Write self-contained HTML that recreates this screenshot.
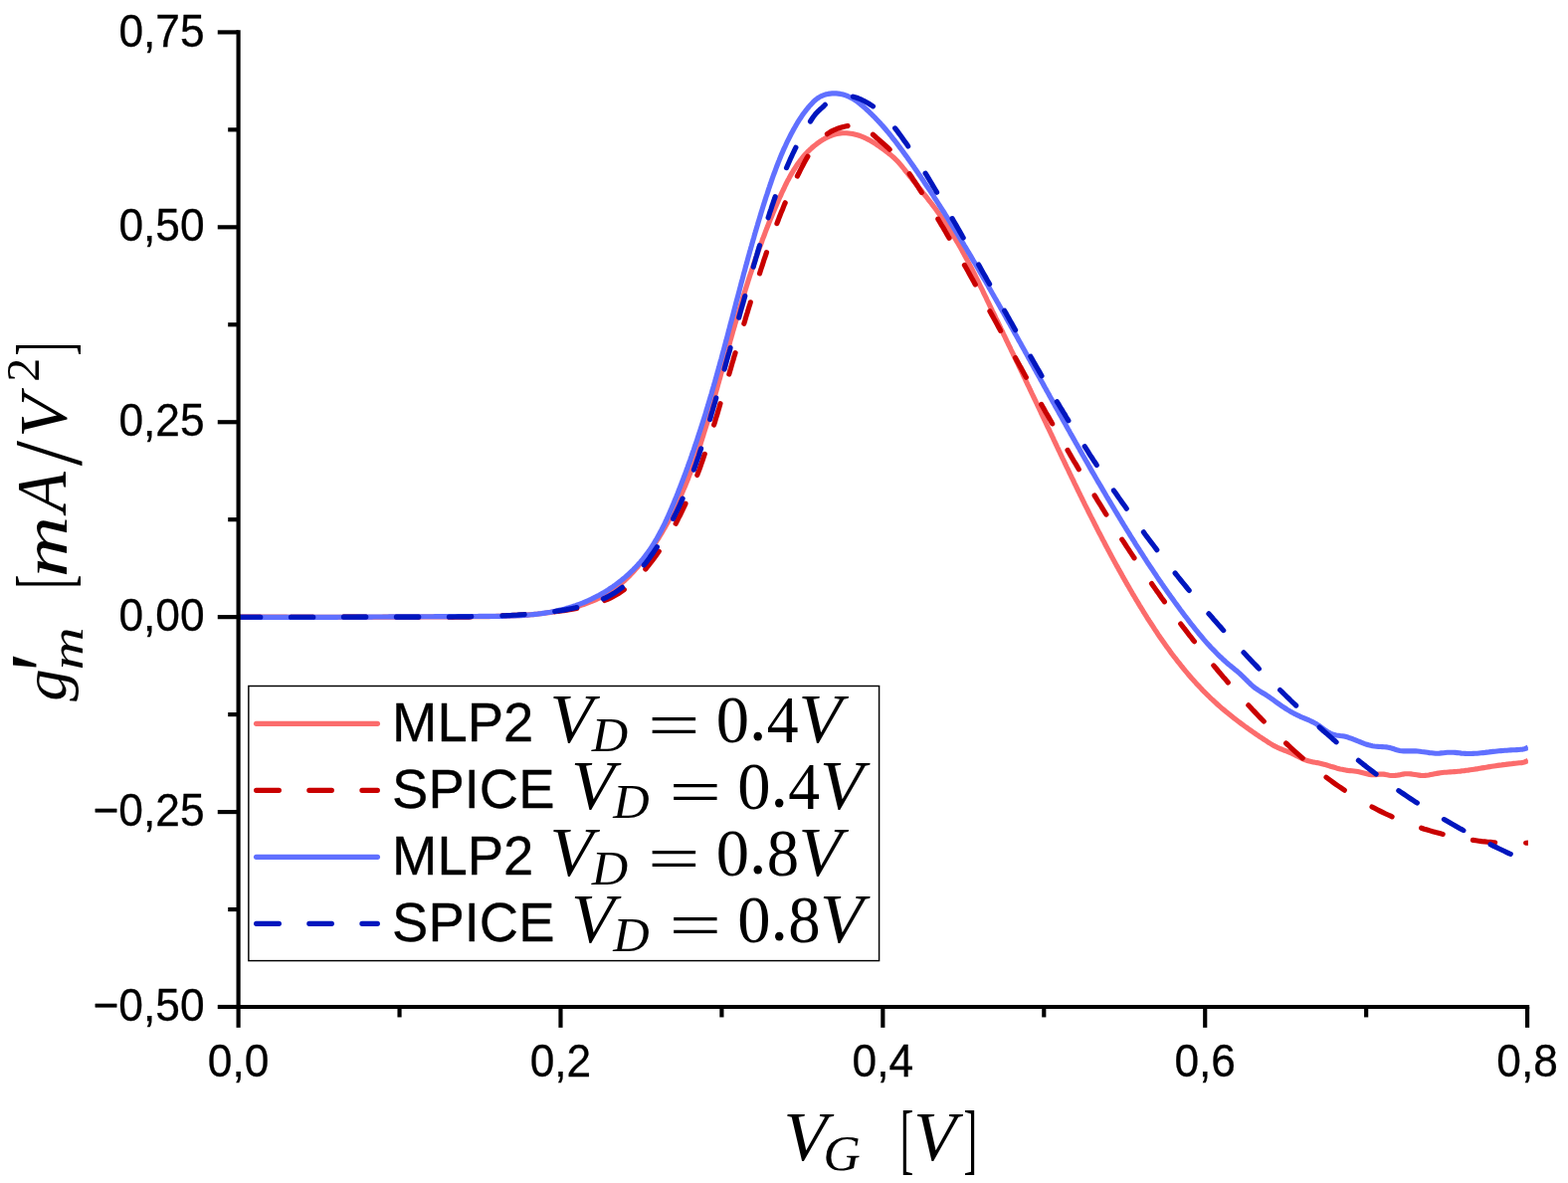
<!DOCTYPE html>
<html lang="en"><head><meta charset="utf-8"><title>g'm vs VG</title>
<style>
html,body{margin:0;padding:0;background:#fff;}
body{width:1576px;height:1189px;overflow:hidden;}
svg{display:block;}
.tick{font-family:"Liberation Sans",Arial,Helvetica,sans-serif;fill:#000;stroke:#000;stroke-width:0.3px;}
.leg{font-family:"Liberation Sans",Arial,Helvetica,sans-serif;fill:#000;stroke:#000;stroke-width:0.3px;}
.mi{font-family:"Liberation Serif","DejaVu Serif",serif;font-style:italic;fill:#000;}
.mr{font-family:"Liberation Serif","DejaVu Serif",serif;font-style:normal;fill:#000;}
</style></head><body>
<svg width="1576" height="1189" viewBox="0 0 1576 1189">
<rect width="1576" height="1189" fill="#fff"/>
<defs><clipPath id="clip"><rect x="239.6" y="32.4" width="1296.3" height="979.6"/></clipPath></defs>
<g clip-path="url(#clip)" fill="none" stroke-width="5.15" stroke-linejoin="round">
<path d="M239.6,620.1 L241.6,620.1 L243.6,620.1 L245.6,620.1 L247.6,620.1 L249.6,620.1 L251.6,620.1 L253.6,620.1 L255.6,620.1 L257.6,620.1 L259.6,620.1 L261.6,620.1 L263.6,620.1 L265.6,620.1 L267.6,620.1 L269.6,620.1 L271.6,620.1 L273.6,620.1 L275.6,620.1 L277.6,620.1 L279.6,620.1 L281.6,620.1 L283.6,620.1 L285.6,620.1 L287.6,620.1 L289.6,620.2 L291.6,620.2 L293.6,620.2 L295.6,620.2 L297.6,620.2 L299.6,620.2 L301.6,620.2 L303.6,620.2 L305.6,620.2 L307.6,620.2 L309.6,620.2 L311.6,620.2 L313.6,620.2 L315.6,620.2 L317.6,620.2 L319.6,620.2 L321.6,620.2 L323.6,620.2 L325.6,620.2 L327.6,620.2 L329.6,620.2 L331.6,620.2 L333.6,620.2 L335.6,620.2 L337.6,620.2 L339.6,620.2 L341.6,620.2 L343.6,620.2 L345.6,620.2 L347.6,620.2 L349.6,620.2 L351.6,620.2 L353.6,620.2 L355.6,620.2 L357.6,620.2 L359.6,620.2 L361.6,620.2 L363.6,620.2 L365.6,620.2 L367.6,620.2 L369.6,620.2 L371.6,620.2 L373.6,620.2 L375.6,620.2 L377.6,620.2 L379.6,620.2 L381.6,620.2 L383.6,620.2 L385.6,620.1 L387.6,620.1 L389.6,620.1 L391.6,620.1 L393.6,620.1 L395.6,620.1 L397.6,620.1 L399.6,620.1 L401.6,620.1 L403.6,620.1 L405.6,620.1 L407.6,620.1 L409.6,620.1 L411.6,620.1 L413.6,620.1 L415.6,620.1 L417.6,620.1 L419.6,620.1 L421.6,620.1 L423.6,620.0 L425.6,620.0 L427.6,620.0 L429.6,620.0 L431.6,620.0 L433.6,620.0 L435.6,620.0 L437.6,620.0 L439.6,620.0 L441.6,620.0 L443.6,620.0 L445.6,619.9 L447.6,619.9 L449.6,619.9 L451.6,619.9 L453.6,619.9 L455.6,619.9 L457.6,619.9 L459.6,619.9 L461.6,619.8 L463.6,619.8 L465.6,619.8 L467.6,619.8 L469.6,619.8 L471.6,619.8 L473.6,619.7 L475.6,619.7 L477.6,619.7 L479.6,619.7 L481.6,619.7 L483.6,619.7 L485.6,619.6 L487.6,619.6 L489.6,619.6 L491.6,619.6 L493.6,619.5 L495.6,619.5 L497.6,619.5 L499.6,619.4 L501.6,619.4 L503.6,619.3 L505.6,619.3 L507.6,619.2 L509.6,619.2 L511.6,619.1 L513.6,619.0 L515.6,618.9 L517.6,618.8 L519.6,618.7 L521.6,618.6 L523.5,618.5 L525.5,618.4 L527.5,618.3 L529.5,618.1 L531.5,617.9 L533.5,617.8 L535.5,617.6 L537.5,617.4 L539.4,617.2 L541.4,617.0 L543.4,616.8 L545.4,616.5 L547.4,616.3 L549.3,616.0 L551.3,615.7 L553.3,615.4 L555.3,615.1 L557.2,614.7 L559.2,614.4 L561.2,614.0 L563.1,613.6 L565.1,613.2 L567.1,612.8 L569.0,612.4 L571.0,611.9 L572.9,611.4 L574.9,610.9 L576.9,610.4 L578.8,609.9 L580.7,609.3 L582.7,608.7 L584.6,608.1 L586.5,607.5 L588.4,606.8 L590.3,606.1 L592.2,605.4 L594.1,604.7 L596.0,603.9 L597.8,603.1 L599.7,602.3 L601.5,601.4 L603.3,600.6 L605.0,599.6 L606.8,598.7 L608.5,597.7 L610.3,596.7 L612.0,595.7 L613.6,594.6 L615.3,593.5 L616.9,592.3 L618.5,591.1 L620.1,589.9 L621.6,588.7 L623.2,587.4 L624.7,586.2 L626.2,584.8 L627.7,583.5 L629.1,582.2 L630.6,580.8 L632.0,579.4 L633.4,577.9 L634.8,576.5 L636.2,575.0 L637.5,573.5 L638.8,572.0 L640.2,570.5 L641.5,569.0 L642.7,567.5 L644.0,565.9 L645.3,564.3 L646.5,562.7 L647.7,561.2 L648.9,559.6 L650.1,558.0 L651.3,556.3 L652.5,554.7 L653.7,553.1 L654.8,551.5 L655.9,549.8 L657.1,548.2 L658.2,546.5 L659.3,544.8 L660.3,543.2 L661.4,541.5 L662.5,539.8 L663.5,538.1 L664.6,536.4 L665.6,534.7 L666.6,533.0 L667.6,531.3 L668.6,529.6 L669.6,527.8 L670.5,526.1 L671.5,524.4 L672.4,522.6 L673.4,520.9 L674.3,519.1 L675.2,517.3 L676.1,515.6 L677.0,513.8 L677.9,512.0 L678.8,510.2 L679.6,508.5 L680.5,506.7 L681.3,504.9 L682.2,503.1 L683.0,501.3 L683.8,499.4 L684.6,497.6 L685.4,495.8 L686.2,494.0 L687.0,492.1 L687.8,490.3 L688.6,488.5 L689.3,486.6 L690.1,484.8 L690.8,482.9 L691.6,481.1 L692.3,479.2 L693.0,477.4 L693.7,475.5 L694.4,473.6 L695.2,471.7 L695.9,469.9 L696.5,468.0 L697.2,466.1 L697.9,464.2 L698.6,462.3 L699.2,460.4 L699.9,458.6 L700.6,456.7 L701.2,454.8 L701.9,452.9 L702.5,450.9 L703.1,449.0 L703.8,447.1 L704.4,445.2 L705.0,443.3 L705.6,441.4 L706.2,439.5 L706.8,437.6 L707.4,435.6 L708.0,433.7 L708.6,431.8 L709.2,429.9 L709.8,427.9 L710.4,426.0 L711.0,424.1 L711.5,422.2 L712.1,420.2 L712.7,418.3 L713.2,416.4 L713.8,414.4 L714.4,412.5 L714.9,410.6 L715.5,408.6 L716.0,406.7 L716.6,404.7 L717.1,402.8 L717.7,400.9 L718.2,398.9 L718.8,397.0 L719.3,395.1 L719.9,393.1 L720.4,391.2 L721.0,389.2 L721.5,387.3 L722.0,385.4 L722.6,383.4 L723.1,381.5 L723.7,379.6 L724.2,377.6 L724.7,375.7 L725.3,373.8 L725.8,371.8 L726.3,369.9 L726.9,368.0 L727.4,366.0 L728.0,364.1 L728.5,362.2 L729.0,360.3 L729.6,358.3 L730.1,356.4 L730.7,354.5 L731.2,352.5 L731.7,350.6 L732.3,348.7 L732.8,346.8 L733.4,344.8 L733.9,342.9 L734.4,341.0 L735.0,339.1 L735.5,337.2 L736.1,335.2 L736.6,333.3 L737.2,331.4 L737.7,329.5 L738.3,327.6 L738.8,325.7 L739.4,323.7 L740.0,321.8 L740.5,319.9 L741.1,318.0 L741.7,316.1 L742.2,314.2 L742.8,312.3 L743.4,310.4 L743.9,308.4 L744.5,306.5 L745.1,304.6 L745.7,302.7 L746.2,300.8 L746.8,298.9 L747.4,297.0 L748.0,295.1 L748.6,293.2 L749.2,291.3 L749.8,289.4 L750.4,287.5 L751.0,285.6 L751.6,283.7 L752.2,281.8 L752.8,279.9 L753.4,278.0 L754.0,276.1 L754.7,274.3 L755.3,272.4 L755.9,270.5 L756.6,268.6 L757.2,266.7 L757.8,264.8 L758.5,262.9 L759.1,261.0 L759.8,259.2 L760.4,257.3 L761.1,255.4 L761.8,253.5 L762.4,251.6 L763.1,249.8 L763.8,247.9 L764.5,246.0 L765.2,244.2 L765.9,242.3 L766.5,240.4 L767.3,238.5 L768.0,236.7 L768.7,234.8 L769.4,232.9 L770.1,231.1 L770.8,229.2 L771.6,227.4 L772.3,225.5 L773.0,223.6 L773.8,221.8 L774.5,219.9 L775.3,218.1 L776.1,216.2 L776.8,214.4 L777.6,212.5 L778.4,210.7 L779.2,208.8 L780.0,207.0 L780.8,205.1 L781.6,203.3 L782.4,201.5 L783.2,199.6 L784.0,197.8 L784.9,196.0 L785.7,194.1 L786.5,192.3 L787.4,190.5 L788.3,188.6 L789.1,186.8 L790.0,185.0 L790.9,183.2 L791.8,181.4 L792.8,179.7 L793.7,177.9 L794.7,176.1 L795.7,174.4 L796.7,172.7 L797.7,171.0 L798.8,169.3 L799.9,167.6 L801.0,165.9 L802.1,164.3 L803.3,162.7 L804.5,161.1 L805.7,159.6 L806.9,158.0 L808.2,156.5 L809.5,155.0 L810.9,153.6 L812.3,152.1 L813.7,150.7 L815.2,149.4 L816.7,148.0 L818.2,146.7 L819.8,145.5 L821.4,144.2 L823.0,143.1 L824.7,141.9 L826.4,140.8 L828.2,139.8 L829.9,138.8 L831.7,137.9 L833.5,137.0 L835.3,136.3 L837.2,135.6 L839.1,135.0 L841.0,134.5 L843.0,134.2 L845.0,133.9 L846.9,133.8 L848.9,133.7 L850.9,133.8 L852.9,134.0 L854.9,134.2 L856.9,134.5 L858.9,135.0 L860.9,135.5 L862.8,136.0 L864.7,136.7 L866.5,137.4 L868.4,138.1 L870.2,139.0 L872.0,139.9 L873.7,140.8 L875.5,141.8 L877.2,142.8 L878.9,143.8 L880.6,144.9 L882.2,146.1 L883.9,147.2 L885.5,148.4 L887.2,149.5 L888.8,150.7 L890.4,151.9 L892.0,153.1 L893.6,154.4 L895.1,155.6 L896.6,156.9 L898.1,158.2 L899.6,159.6 L901.0,161.0 L902.4,162.4 L903.7,163.9 L905.0,165.4 L906.3,166.9 L907.6,168.5 L908.8,170.0 L910.0,171.6 L911.3,173.2 L912.5,174.7 L913.8,176.3 L915.0,177.9 L916.3,179.4 L917.5,181.0 L918.8,182.6 L920.0,184.1 L921.3,185.7 L922.5,187.2 L923.8,188.8 L925.1,190.4 L926.3,191.9 L927.5,193.5 L928.8,195.1 L930.0,196.6 L931.3,198.2 L932.5,199.8 L933.7,201.4 L934.9,202.9 L936.2,204.5 L937.4,206.1 L938.6,207.7 L939.8,209.3 L941.0,210.9 L942.1,212.5 L943.3,214.1 L944.5,215.8 L945.6,217.4 L946.8,219.0 L947.9,220.7 L949.0,222.3 L950.1,224.0 L951.2,225.6 L952.3,227.3 L953.4,229.0 L954.5,230.7 L955.5,232.3 L956.6,234.0 L957.6,235.7 L958.7,237.4 L959.7,239.1 L960.7,240.9 L961.7,242.6 L962.7,244.3 L963.7,246.0 L964.7,247.8 L965.7,249.5 L966.7,251.3 L967.6,253.0 L968.6,254.8 L969.5,256.5 L970.5,258.3 L971.4,260.0 L972.4,261.8 L973.3,263.6 L974.2,265.3 L975.1,267.1 L976.1,268.9 L977.0,270.7 L977.9,272.5 L978.8,274.3 L979.7,276.0 L980.6,277.8 L981.5,279.6 L982.4,281.4 L983.3,283.2 L984.1,285.0 L985.0,286.8 L985.9,288.6 L986.8,290.4 L987.7,292.2 L988.5,294.0 L989.4,295.8 L990.3,297.6 L991.2,299.4 L992.0,301.3 L992.9,303.1 L993.8,304.9 L994.6,306.7 L995.5,308.5 L996.4,310.3 L997.2,312.1 L998.1,313.9 L999.0,315.7 L999.9,317.5 L1000.7,319.3 L1001.6,321.1 L1002.5,322.9 L1003.3,324.7 L1004.2,326.5 L1005.1,328.3 L1005.9,330.1 L1006.8,331.9 L1007.7,333.7 L1008.5,335.6 L1009.4,337.4 L1010.3,339.2 L1011.1,341.0 L1012.0,342.8 L1012.9,344.6 L1013.7,346.4 L1014.6,348.2 L1015.5,350.0 L1016.3,351.8 L1017.2,353.6 L1018.1,355.4 L1018.9,357.2 L1019.8,359.0 L1020.7,360.8 L1021.5,362.6 L1022.4,364.4 L1023.3,366.2 L1024.1,368.0 L1025.0,369.8 L1025.9,371.6 L1026.7,373.4 L1027.6,375.2 L1028.4,377.0 L1029.3,378.8 L1030.2,380.6 L1031.0,382.5 L1031.9,384.3 L1032.7,386.1 L1033.6,387.9 L1034.5,389.7 L1035.3,391.5 L1036.2,393.3 L1037.0,395.1 L1037.9,396.9 L1038.7,398.7 L1039.6,400.5 L1040.5,402.3 L1041.3,404.1 L1042.2,405.9 L1043.0,407.7 L1043.9,409.5 L1044.7,411.3 L1045.6,413.1 L1046.4,415.0 L1047.3,416.8 L1048.1,418.6 L1049.0,420.4 L1049.8,422.2 L1050.7,424.0 L1051.5,425.8 L1052.4,427.6 L1053.2,429.4 L1054.1,431.2 L1055.0,433.0 L1055.8,434.8 L1056.7,436.6 L1057.5,438.4 L1058.4,440.2 L1059.2,442.1 L1060.1,443.9 L1060.9,445.7 L1061.8,447.5 L1062.6,449.3 L1063.5,451.1 L1064.3,452.9 L1065.2,454.7 L1066.0,456.5 L1066.9,458.3 L1067.7,460.1 L1068.6,461.9 L1069.5,463.7 L1070.3,465.5 L1071.2,467.3 L1072.0,469.1 L1072.9,470.9 L1073.8,472.7 L1074.6,474.5 L1075.5,476.3 L1076.4,478.1 L1077.2,479.9 L1078.1,481.7 L1079.0,483.5 L1079.8,485.3 L1080.7,487.1 L1081.6,488.9 L1082.4,490.7 L1083.3,492.5 L1084.2,494.3 L1085.1,496.1 L1085.9,497.9 L1086.8,499.7 L1087.7,501.5 L1088.6,503.3 L1089.5,505.1 L1090.3,506.8 L1091.2,508.6 L1092.1,510.4 L1093.0,512.2 L1093.9,514.0 L1094.8,515.8 L1095.7,517.6 L1096.6,519.4 L1097.5,521.1 L1098.4,522.9 L1099.3,524.7 L1100.2,526.5 L1101.1,528.3 L1102.0,530.0 L1102.9,531.8 L1103.8,533.6 L1104.7,535.4 L1105.7,537.1 L1106.6,538.9 L1107.5,540.7 L1108.4,542.5 L1109.4,544.2 L1110.3,546.0 L1111.2,547.8 L1112.1,549.5 L1113.1,551.3 L1114.0,553.1 L1115.0,554.8 L1115.9,556.6 L1116.9,558.4 L1117.8,560.1 L1118.8,561.9 L1119.7,563.6 L1120.7,565.4 L1121.6,567.1 L1122.6,568.9 L1123.6,570.6 L1124.5,572.4 L1125.5,574.1 L1126.5,575.9 L1127.5,577.6 L1128.4,579.4 L1129.4,581.1 L1130.4,582.9 L1131.4,584.6 L1132.4,586.4 L1133.4,588.1 L1134.4,589.8 L1135.4,591.6 L1136.4,593.3 L1137.4,595.0 L1138.4,596.8 L1139.5,598.5 L1140.5,600.2 L1141.5,601.9 L1142.5,603.7 L1143.6,605.4 L1144.6,607.1 L1145.6,608.8 L1146.7,610.5 L1147.7,612.2 L1148.8,613.9 L1149.8,615.7 L1150.9,617.4 L1152.0,619.1 L1153.0,620.8 L1154.1,622.5 L1155.2,624.2 L1156.3,625.8 L1157.4,627.5 L1158.5,629.2 L1159.6,630.9 L1160.7,632.6 L1161.8,634.2 L1162.9,635.9 L1164.0,637.6 L1165.1,639.2 L1166.3,640.9 L1167.4,642.5 L1168.6,644.2 L1169.7,645.8 L1170.9,647.5 L1172.0,649.1 L1173.2,650.7 L1174.4,652.3 L1175.6,654.0 L1176.7,655.6 L1177.9,657.2 L1179.1,658.8 L1180.3,660.4 L1181.6,661.9 L1182.8,663.5 L1184.0,665.1 L1185.3,666.7 L1186.5,668.2 L1187.7,669.8 L1189.0,671.3 L1190.3,672.9 L1191.5,674.4 L1192.8,675.9 L1194.1,677.5 L1195.4,679.0 L1196.7,680.5 L1198.0,682.0 L1199.4,683.5 L1200.7,684.9 L1202.0,686.4 L1203.4,687.9 L1204.7,689.3 L1206.1,690.8 L1207.5,692.2 L1208.8,693.7 L1210.2,695.1 L1211.6,696.5 L1213.0,697.9 L1214.5,699.3 L1215.9,700.7 L1217.3,702.1 L1218.8,703.4 L1220.2,704.8 L1221.7,706.1 L1223.2,707.5 L1224.6,708.8 L1226.1,710.1 L1227.6,711.4 L1229.2,712.7 L1230.7,714.0 L1232.2,715.3 L1233.8,716.6 L1235.3,717.8 L1236.9,719.1 L1238.4,720.3 L1240.0,721.6 L1241.6,722.8 L1243.2,724.0 L1244.8,725.2 L1246.4,726.4 L1248.0,727.6 L1249.6,728.8 L1251.2,730.0 L1252.9,731.2 L1254.5,732.3 L1256.1,733.5 L1257.8,734.6 L1259.4,735.8 L1261.1,736.9 L1262.7,738.1 L1264.4,739.2 L1266.0,740.3 L1267.7,741.4 L1269.3,742.5 L1271.0,743.6 L1272.7,744.7 L1274.4,745.8 L1276.0,746.9 L1277.7,747.9 L1279.5,749.0 L1281.2,749.9 L1283.0,750.8 L1284.8,751.7 L1286.6,752.5 L1288.4,753.2 L1290.3,754.0 L1292.2,754.7 L1294.1,755.4 L1295.9,756.2 L1297.8,757.0 L1299.6,757.8 L1301.4,758.7 L1303.2,759.6 L1305.0,760.5 L1306.8,761.4 L1308.6,762.3 L1310.4,763.1 L1312.2,763.9 L1314.1,764.5 L1316.0,765.1 L1317.9,765.5 L1319.9,765.9 L1321.9,766.3 L1323.9,766.6 L1325.8,767.0 L1327.8,767.4 L1329.7,767.9 L1331.7,768.4 L1333.6,769.0 L1335.5,769.6 L1337.4,770.2 L1339.3,770.7 L1341.2,771.3 L1343.2,771.9 L1345.1,772.4 L1347.0,772.9 L1349.0,773.3 L1351.0,773.7 L1352.9,774.1 L1354.9,774.4 L1356.9,774.6 L1358.9,774.8 L1360.9,775.0 L1362.9,775.2 L1364.8,775.5 L1366.8,775.9 L1368.8,776.4 L1370.8,776.9 L1372.7,777.4 L1374.7,777.9 L1376.6,778.4 L1378.6,778.7 L1380.5,778.8 L1382.5,778.7 L1384.5,778.4 L1386.4,778.1 L1388.4,778.0 L1390.4,778.1 L1392.3,778.4 L1394.3,778.8 L1396.3,779.2 L1398.2,779.5 L1400.2,779.5 L1402.2,779.4 L1404.2,779.2 L1406.2,778.9 L1408.2,778.5 L1410.2,778.1 L1412.1,777.8 L1414.1,777.7 L1416.1,777.7 L1418.1,777.9 L1420.1,778.2 L1422.1,778.5 L1424.1,778.8 L1426.0,779.1 L1428.0,779.4 L1430.0,779.5 L1432.0,779.4 L1434.0,779.2 L1436.0,779.0 L1437.9,778.6 L1439.9,778.2 L1441.9,777.8 L1443.9,777.4 L1445.8,777.1 L1447.8,776.8 L1449.8,776.5 L1451.8,776.3 L1453.8,776.2 L1455.8,776.0 L1457.8,775.9 L1459.8,775.8 L1461.8,775.6 L1463.8,775.5 L1465.7,775.3 L1467.7,775.1 L1469.7,774.8 L1471.7,774.6 L1473.7,774.3 L1475.7,774.1 L1477.6,773.8 L1479.6,773.5 L1481.6,773.2 L1483.6,772.9 L1485.6,772.6 L1487.5,772.2 L1489.5,771.9 L1491.5,771.6 L1493.5,771.3 L1495.4,770.9 L1497.4,770.6 L1499.4,770.3 L1501.4,770.0 L1503.3,769.7 L1505.3,769.4 L1507.3,769.1 L1509.3,768.9 L1511.2,768.6 L1513.2,768.4 L1515.2,768.1 L1517.2,767.9 L1519.2,767.7 L1521.2,767.4 L1523.1,767.2 L1525.1,767.0 L1527.1,766.8 L1529.1,766.6 L1531.1,766.2 L1533.0,765.7 L1534.9,764.8 L1535.9,764.2" stroke="#fb6c6c"/>
<path d="M239.6,620.1 L242.6,620.2 L245.6,620.2 L248.6,620.2 L251.6,620.2 L254.6,620.2 L257.6,620.2 L260.6,620.2 L261.8,620.2 M292.4,620.2 L295.4,620.2 L298.4,620.2 L301.4,620.2 L304.4,620.2 L307.4,620.2 L310.4,620.2 L313.4,620.2 L314.8,620.2 M345.4,620.1 L348.4,620.1 L351.4,620.1 L354.4,620.1 L357.4,620.1 L360.4,620.1 L363.4,620.1 L366.4,620.1 L367.8,620.1 M398.4,620.1 L401.4,620.1 L404.4,620.1 L407.4,620.1 L410.4,620.1 L413.4,620.1 L416.4,620.1 L419.4,620.1 L420.8,620.1 M451.5,620.1 L454.5,620.1 L457.5,620.0 L460.5,620.0 L463.5,620.0 L466.5,619.9 L469.5,619.9 L472.5,619.9 L473.9,619.8 M504.8,618.9 L507.8,618.8 L510.8,618.7 L513.8,618.5 L516.8,618.3 L519.8,618.2 L522.8,618.0 L525.8,617.8 L527.2,617.7 M557.7,614.8 L560.6,614.4 L563.6,614.0 L566.6,613.6 L569.6,613.1 L572.5,612.6 L575.5,612.1 L578.4,611.6 L579.8,611.4 M607.8,603.5 L610.6,602.3 L613.3,601.1 L616.0,599.7 L618.6,598.3 L621.2,596.8 L623.7,595.1 L626.2,593.4 L627.3,592.6 M648.8,572.0 L650.7,569.7 L652.6,567.3 L654.4,564.9 L656.2,562.6 L658.0,560.2 L659.8,557.7 L661.5,555.3 L662.3,554.1 M679.2,526.3 L680.6,523.6 L681.9,520.9 L683.3,518.3 L684.6,515.6 L685.9,512.9 L687.2,510.2 L688.5,507.4 L689.0,506.2 M700.8,477.5 L701.8,474.7 L702.9,471.9 L703.9,469.1 L704.9,466.2 L705.9,463.4 L706.8,460.6 L707.8,457.7 L708.3,456.4 M717.6,427.0 L718.5,424.2 L719.3,421.3 L720.2,418.4 L721.1,415.6 L721.9,412.7 L722.8,409.8 L723.6,406.9 L724.0,405.6 M732.8,376.1 L733.6,373.2 L734.5,370.3 L735.3,367.4 L736.1,364.6 L737.0,361.7 L737.8,358.8 L738.7,355.9 L739.1,354.6 M747.8,325.3 L748.7,322.4 L749.5,319.5 L750.4,316.6 L751.3,313.8 L752.1,310.9 L753.0,308.0 L753.9,305.2 L754.3,303.8 M763.5,274.9 L764.4,272.0 L765.3,269.2 L766.3,266.3 L767.2,263.5 L768.1,260.6 L769.1,257.8 L770.1,254.9 L770.5,253.6 M780.9,224.6 L782.0,221.8 L783.0,219.0 L784.1,216.2 L785.2,213.4 L786.4,210.7 L787.5,207.9 L788.6,205.1 L789.2,203.8 M801.4,177.0 L802.8,174.3 L804.1,171.6 L805.5,168.9 L806.9,166.3 L808.3,163.6 L809.7,161.0 L811.2,158.4 L811.9,157.2 M831.4,134.7 L833.9,133.1 L836.5,131.6 L839.2,130.3 L842.0,129.2 L844.9,128.2 L847.7,127.4 L850.7,126.8 L852.1,126.6 M877.4,135.3 L879.7,137.3 L881.9,139.3 L884.2,141.2 L886.5,143.2 L888.7,145.2 L891.0,147.2 L893.2,149.2 L894.2,150.2 M914.1,174.7 L915.8,177.2 L917.4,179.7 L919.1,182.2 L920.7,184.7 L922.3,187.2 L924.0,189.8 L925.6,192.3 L926.3,193.5 M942.8,220.1 L944.3,222.7 L945.8,225.3 L947.4,227.8 L948.9,230.4 L950.4,233.0 L951.9,235.6 L953.4,238.2 L954.1,239.4 M969.4,266.4 L970.9,269.0 L972.4,271.6 L973.8,274.2 L975.3,276.9 L976.7,279.5 L978.2,282.1 L979.6,284.7 L980.3,286.0 M994.9,312.7 L996.3,315.4 L997.8,318.0 L999.2,320.6 L1000.7,323.3 L1002.1,325.9 L1003.5,328.5 L1005.0,331.2 L1005.6,332.4 M1020.6,359.6 L1022.0,362.2 L1023.5,364.9 L1024.9,367.5 L1026.4,370.1 L1027.8,372.7 L1029.3,375.4 L1030.7,378.0 L1031.4,379.2 M1046.6,406.4 L1048.1,409.0 L1049.6,411.6 L1051.0,414.2 L1052.5,416.8 L1054.0,419.4 L1055.5,422.0 L1057.0,424.6 L1057.7,425.9 M1073.0,452.4 L1074.5,455.0 L1076.0,457.6 L1077.5,460.2 L1079.0,462.8 L1080.6,465.3 L1082.1,467.9 L1083.6,470.5 L1084.3,471.7 M1100.1,498.0 L1101.7,500.5 L1103.2,503.1 L1104.8,505.7 L1106.4,508.2 L1108.0,510.8 L1109.5,513.3 L1111.1,515.9 L1111.9,517.1 M1127.7,542.1 L1129.4,544.6 L1131.0,547.1 L1132.6,549.6 L1134.3,552.1 L1135.9,554.6 L1137.6,557.1 L1139.2,559.6 L1140.0,560.8 M1157.5,586.5 L1159.2,588.9 L1160.9,591.4 L1162.6,593.9 L1164.4,596.3 L1166.1,598.8 L1167.8,601.2 L1169.6,603.6 L1170.4,604.8 M1186.7,627.0 L1188.5,629.3 L1190.3,631.7 L1192.2,634.1 L1194.0,636.5 L1195.8,638.9 L1197.7,641.2 L1199.5,643.6 L1200.4,644.7 M1219.8,668.9 L1221.8,671.2 L1223.7,673.5 L1225.6,675.8 L1227.6,678.1 L1229.5,680.4 L1231.5,682.6 L1233.4,684.9 L1234.3,686.0 M1254.8,708.8 L1256.9,711.0 L1258.9,713.2 L1261.0,715.4 L1263.0,717.5 L1265.1,719.7 L1267.2,721.9 L1269.3,724.0 L1270.3,725.0 M1292.6,747.0 L1294.8,749.0 L1297.0,751.1 L1299.2,753.1 L1301.4,755.1 L1303.7,757.1 L1305.9,759.1 L1308.2,761.1 L1309.2,762.0 M1333.0,781.2 L1335.4,783.0 L1337.8,784.8 L1340.3,786.6 L1342.7,788.3 L1345.1,790.0 L1347.6,791.7 L1350.1,793.4 L1351.3,794.2 M1379.0,810.9 L1381.6,812.3 L1384.3,813.7 L1387.0,815.1 L1389.6,816.4 L1392.3,817.7 L1395.1,819.0 L1397.8,820.2 L1399.1,820.8 M1428.6,832.2 L1431.5,833.2 L1434.4,834.0 L1437.2,834.9 L1440.1,835.8 L1443.0,836.6 L1445.9,837.3 L1448.8,838.1 L1450.2,838.4 M1480.4,844.4 L1483.4,844.8 L1486.4,845.2 L1489.3,845.6 L1492.3,845.9 L1495.3,846.2 L1498.3,846.4 L1501.3,846.7 L1502.7,846.8 M1533.6,847.2 L1536.6,847.1 L1539.6,846.9 L1542.6,846.7 L1544.8,846.5" stroke="#c90000" stroke-linecap="round"/>
<path d="M239.6,620.1 L241.6,620.2 L243.6,620.2 L245.6,620.2 L247.7,620.2 L249.7,620.2 L251.7,620.2 L253.7,620.3 L255.7,620.3 L257.7,620.3 L259.7,620.3 L261.7,620.3 L263.7,620.3 L265.7,620.3 L267.7,620.3 L269.7,620.3 L271.7,620.3 L273.7,620.3 L275.7,620.3 L277.8,620.4 L279.8,620.4 L281.8,620.4 L283.8,620.4 L285.8,620.4 L287.8,620.4 L289.8,620.4 L291.8,620.4 L293.8,620.4 L295.8,620.4 L297.8,620.4 L299.8,620.4 L301.7,620.4 L303.7,620.4 L305.7,620.4 L307.7,620.4 L309.7,620.4 L311.7,620.3 L313.7,620.3 L315.7,620.3 L317.7,620.3 L319.7,620.3 L321.7,620.3 L323.7,620.3 L325.7,620.3 L327.7,620.3 L329.7,620.3 L331.7,620.3 L333.7,620.3 L335.7,620.3 L337.7,620.3 L339.6,620.3 L341.6,620.2 L343.6,620.2 L345.6,620.2 L347.6,620.2 L349.6,620.2 L351.6,620.2 L353.6,620.2 L355.6,620.2 L357.6,620.2 L359.6,620.1 L361.6,620.1 L363.6,620.1 L365.5,620.1 L367.5,620.1 L369.5,620.1 L371.5,620.1 L373.5,620.1 L375.5,620.0 L377.5,620.0 L379.5,620.0 L381.5,620.0 L383.5,620.0 L385.5,620.0 L387.5,620.0 L389.5,620.0 L391.5,619.9 L393.4,619.9 L395.4,619.9 L397.4,619.9 L399.4,619.9 L401.4,619.9 L403.4,619.9 L405.4,619.8 L407.4,619.8 L409.4,619.8 L411.4,619.8 L413.4,619.8 L415.4,619.8 L417.4,619.8 L419.4,619.8 L421.4,619.7 L423.4,619.7 L425.4,619.7 L427.4,619.7 L429.4,619.7 L431.4,619.7 L433.4,619.7 L435.4,619.7 L437.4,619.6 L439.4,619.6 L441.4,619.6 L443.4,619.6 L445.4,619.6 L447.4,619.6 L449.4,619.6 L451.4,619.6 L453.4,619.6 L455.4,619.5 L457.5,619.5 L459.5,619.5 L461.5,619.5 L463.5,619.5 L465.5,619.5 L467.5,619.5 L469.5,619.5 L471.5,619.5 L473.5,619.5 L475.6,619.5 L477.6,619.5 L479.6,619.5 L481.6,619.4 L483.6,619.4 L485.6,619.4 L487.7,619.4 L489.7,619.4 L491.7,619.4 L493.7,619.4 L495.7,619.4 L497.8,619.4 L499.8,619.4 L501.8,619.3 L503.8,619.3 L505.8,619.3 L507.8,619.2 L509.9,619.2 L511.9,619.1 L513.9,619.0 L515.9,619.0 L517.9,618.9 L519.9,618.8 L521.9,618.7 L523.9,618.6 L525.9,618.4 L527.9,618.3 L529.9,618.1 L531.9,618.0 L533.9,617.8 L535.9,617.6 L537.9,617.4 L539.8,617.2 L541.8,616.9 L543.8,616.7 L545.7,616.4 L547.7,616.1 L549.7,615.8 L551.6,615.5 L553.6,615.2 L555.5,614.8 L557.5,614.4 L559.4,614.0 L561.3,613.6 L563.3,613.1 L565.2,612.7 L567.1,612.2 L569.0,611.6 L570.9,611.1 L572.8,610.5 L574.7,609.9 L576.6,609.3 L578.5,608.7 L580.4,608.0 L582.2,607.3 L584.1,606.6 L586.0,605.9 L587.8,605.1 L589.6,604.3 L591.4,603.5 L593.3,602.7 L595.1,601.8 L596.9,600.9 L598.6,600.0 L600.4,599.1 L602.2,598.2 L603.9,597.2 L605.6,596.2 L607.4,595.2 L609.1,594.2 L610.8,593.1 L612.4,592.0 L614.1,590.9 L615.8,589.8 L617.4,588.7 L619.0,587.5 L620.6,586.3 L622.2,585.1 L623.8,583.9 L625.3,582.6 L626.9,581.4 L628.4,580.1 L629.9,578.8 L631.4,577.5 L632.8,576.1 L634.3,574.7 L635.7,573.4 L637.1,571.9 L638.5,570.5 L639.9,569.1 L641.2,567.6 L642.6,566.1 L643.9,564.6 L645.1,563.1 L646.4,561.6 L647.6,560.0 L648.9,558.4 L650.0,556.8 L651.2,555.2 L652.4,553.6 L653.5,552.0 L654.6,550.3 L655.7,548.6 L656.8,546.9 L657.8,545.2 L658.8,543.5 L659.9,541.8 L660.8,540.1 L661.8,538.3 L662.8,536.5 L663.7,534.8 L664.7,533.0 L665.6,531.2 L666.5,529.4 L667.4,527.6 L668.3,525.8 L669.1,523.9 L670.0,522.1 L670.8,520.3 L671.7,518.4 L672.5,516.6 L673.3,514.7 L674.1,512.8 L674.9,511.0 L675.7,509.1 L676.5,507.2 L677.3,505.4 L678.0,503.5 L678.8,501.6 L679.6,499.7 L680.3,497.8 L681.1,496.0 L681.8,494.1 L682.5,492.2 L683.3,490.3 L684.0,488.4 L684.7,486.6 L685.4,484.7 L686.2,482.8 L686.9,480.9 L687.6,479.0 L688.3,477.2 L689.0,475.3 L689.7,473.4 L690.4,471.5 L691.1,469.6 L691.7,467.7 L692.4,465.9 L693.1,464.0 L693.8,462.1 L694.4,460.2 L695.1,458.3 L695.7,456.4 L696.4,454.5 L697.1,452.6 L697.7,450.8 L698.3,448.9 L699.0,447.0 L699.6,445.1 L700.3,443.2 L700.9,441.3 L701.5,439.4 L702.1,437.5 L702.7,435.6 L703.4,433.7 L704.0,431.8 L704.6,429.9 L705.2,428.0 L705.8,426.1 L706.4,424.3 L707.0,422.4 L707.6,420.5 L708.2,418.6 L708.8,416.7 L709.4,414.8 L709.9,412.8 L710.5,410.9 L711.1,409.0 L711.7,407.1 L712.2,405.2 L712.8,403.3 L713.4,401.4 L713.9,399.5 L714.5,397.6 L715.1,395.7 L715.6,393.8 L716.2,391.9 L716.7,390.0 L717.3,388.0 L717.8,386.1 L718.4,384.2 L718.9,382.3 L719.5,380.4 L720.0,378.5 L720.5,376.5 L721.1,374.6 L721.6,372.7 L722.1,370.8 L722.7,368.9 L723.2,366.9 L723.7,365.0 L724.2,363.1 L724.8,361.2 L725.3,359.3 L725.8,357.3 L726.3,355.4 L726.9,353.5 L727.4,351.5 L727.9,349.6 L728.4,347.7 L728.9,345.8 L729.4,343.8 L730.0,341.9 L730.5,340.0 L731.0,338.0 L731.5,336.1 L732.0,334.2 L732.5,332.2 L733.0,330.3 L733.5,328.4 L734.0,326.4 L734.5,324.5 L735.1,322.6 L735.6,320.6 L736.1,318.7 L736.6,316.8 L737.1,314.8 L737.6,312.9 L738.1,311.0 L738.6,309.0 L739.1,307.1 L739.6,305.2 L740.1,303.2 L740.6,301.3 L741.2,299.4 L741.7,297.4 L742.2,295.5 L742.7,293.6 L743.2,291.6 L743.7,289.7 L744.2,287.8 L744.7,285.8 L745.2,283.9 L745.8,282.0 L746.3,280.0 L746.8,278.1 L747.3,276.2 L747.8,274.2 L748.4,272.3 L748.9,270.4 L749.4,268.4 L749.9,266.5 L750.5,264.6 L751.0,262.6 L751.5,260.7 L752.0,258.8 L752.6,256.8 L753.1,254.9 L753.6,253.0 L754.2,251.0 L754.7,249.1 L755.3,247.2 L755.8,245.3 L756.4,243.3 L756.9,241.4 L757.5,239.5 L758.0,237.6 L758.6,235.6 L759.1,233.7 L759.7,231.8 L760.2,229.9 L760.8,227.9 L761.4,226.0 L761.9,224.1 L762.5,222.2 L763.1,220.3 L763.7,218.3 L764.3,216.4 L764.8,214.5 L765.4,212.6 L766.0,210.7 L766.6,208.8 L767.2,206.8 L767.8,204.9 L768.4,203.0 L769.0,201.1 L769.6,199.2 L770.2,197.3 L770.9,195.4 L771.5,193.5 L772.1,191.6 L772.7,189.7 L773.4,187.8 L774.0,185.9 L774.7,184.0 L775.3,182.1 L776.0,180.2 L776.6,178.3 L777.3,176.4 L778.0,174.5 L778.7,172.7 L779.4,170.8 L780.1,168.9 L780.8,167.0 L781.5,165.2 L782.2,163.3 L783.0,161.4 L783.7,159.6 L784.5,157.8 L785.2,155.9 L786.0,154.1 L786.8,152.2 L787.6,150.4 L788.4,148.6 L789.3,146.8 L790.1,145.0 L790.9,143.2 L791.8,141.4 L792.7,139.6 L793.6,137.8 L794.5,136.0 L795.4,134.3 L796.4,132.5 L797.3,130.8 L798.3,129.0 L799.3,127.3 L800.3,125.5 L801.3,123.8 L802.3,122.1 L803.4,120.4 L804.5,118.8 L805.6,117.1 L806.7,115.4 L807.9,113.8 L809.1,112.2 L810.3,110.6 L811.6,109.0 L812.9,107.5 L814.2,105.9 L815.6,104.4 L817.0,102.9 L818.4,101.5 L819.9,100.2 L821.5,99.0 L823.2,97.9 L824.9,96.9 L826.7,96.1 L828.6,95.4 L830.5,94.8 L832.4,94.4 L834.4,94.1 L836.4,93.9 L838.5,93.9 L840.5,93.9 L842.5,94.1 L844.5,94.4 L846.4,94.8 L848.3,95.3 L850.2,95.9 L852.0,96.7 L853.8,97.5 L855.6,98.4 L857.3,99.4 L859.0,100.4 L860.6,101.5 L862.3,102.7 L863.9,103.9 L865.4,105.2 L867.0,106.5 L868.5,107.8 L870.0,109.1 L871.5,110.5 L873.0,111.9 L874.4,113.3 L875.9,114.7 L877.3,116.1 L878.7,117.5 L880.1,118.9 L881.5,120.4 L882.8,121.9 L884.2,123.3 L885.5,124.8 L886.9,126.3 L888.2,127.8 L889.5,129.3 L890.8,130.8 L892.1,132.4 L893.4,133.9 L894.6,135.4 L895.9,137.0 L897.1,138.6 L898.3,140.1 L899.6,141.7 L900.8,143.3 L902.0,144.9 L903.2,146.5 L904.4,148.1 L905.6,149.7 L906.8,151.3 L907.9,152.9 L909.1,154.5 L910.3,156.1 L911.5,157.7 L912.6,159.4 L913.8,161.0 L914.9,162.6 L916.1,164.3 L917.2,165.9 L918.4,167.5 L919.5,169.2 L920.6,170.8 L921.8,172.5 L922.9,174.1 L924.0,175.8 L925.2,177.4 L926.3,179.1 L927.4,180.7 L928.5,182.4 L929.6,184.1 L930.7,185.7 L931.9,187.4 L933.0,189.0 L934.1,190.7 L935.2,192.4 L936.3,194.0 L937.4,195.7 L938.5,197.4 L939.5,199.1 L940.6,200.7 L941.7,202.4 L942.8,204.1 L943.9,205.8 L945.0,207.5 L946.0,209.2 L947.1,210.8 L948.2,212.5 L949.3,214.2 L950.3,215.9 L951.4,217.6 L952.5,219.3 L953.5,221.0 L954.6,222.7 L955.6,224.4 L956.7,226.1 L957.8,227.8 L958.8,229.5 L959.9,231.2 L960.9,232.9 L962.0,234.6 L963.0,236.3 L964.0,238.0 L965.1,239.7 L966.1,241.5 L967.2,243.2 L968.2,244.9 L969.2,246.6 L970.3,248.3 L971.3,250.0 L972.3,251.7 L973.3,253.5 L974.4,255.2 L975.4,256.9 L976.4,258.6 L977.4,260.4 L978.4,262.1 L979.5,263.8 L980.5,265.5 L981.5,267.3 L982.5,269.0 L983.5,270.7 L984.5,272.4 L985.5,274.2 L986.5,275.9 L987.5,277.6 L988.5,279.4 L989.6,281.1 L990.6,282.8 L991.6,284.6 L992.6,286.3 L993.6,288.0 L994.5,289.8 L995.5,291.5 L996.5,293.2 L997.5,295.0 L998.5,296.7 L999.5,298.5 L1000.5,300.2 L1001.5,301.9 L1002.5,303.7 L1003.5,305.4 L1004.5,307.2 L1005.4,308.9 L1006.4,310.6 L1007.4,312.4 L1008.4,314.1 L1009.4,315.9 L1010.4,317.6 L1011.3,319.4 L1012.3,321.1 L1013.3,322.9 L1014.3,324.6 L1015.3,326.3 L1016.2,328.1 L1017.2,329.8 L1018.2,331.6 L1019.2,333.3 L1020.1,335.1 L1021.1,336.8 L1022.1,338.6 L1023.1,340.3 L1024.0,342.1 L1025.0,343.8 L1026.0,345.5 L1026.9,347.3 L1027.9,349.0 L1028.9,350.8 L1029.9,352.5 L1030.8,354.3 L1031.8,356.0 L1032.8,357.8 L1033.7,359.5 L1034.7,361.3 L1035.7,363.0 L1036.6,364.8 L1037.6,366.5 L1038.6,368.3 L1039.5,370.0 L1040.5,371.8 L1041.5,373.5 L1042.4,375.3 L1043.4,377.0 L1044.4,378.8 L1045.4,380.5 L1046.3,382.3 L1047.3,384.0 L1048.3,385.8 L1049.2,387.5 L1050.2,389.3 L1051.2,391.0 L1052.1,392.8 L1053.1,394.5 L1054.1,396.2 L1055.0,398.0 L1056.0,399.7 L1057.0,401.5 L1057.9,403.2 L1058.9,405.0 L1059.9,406.7 L1060.8,408.5 L1061.8,410.2 L1062.8,412.0 L1063.8,413.7 L1064.7,415.5 L1065.7,417.2 L1066.7,418.9 L1067.6,420.7 L1068.6,422.4 L1069.6,424.2 L1070.6,425.9 L1071.5,427.7 L1072.5,429.4 L1073.5,431.2 L1074.5,432.9 L1075.4,434.6 L1076.4,436.4 L1077.4,438.1 L1078.4,439.9 L1079.4,441.6 L1080.3,443.3 L1081.3,445.1 L1082.3,446.8 L1083.3,448.6 L1084.3,450.3 L1085.3,452.0 L1086.2,453.8 L1087.2,455.5 L1088.2,457.3 L1089.2,459.0 L1090.2,460.7 L1091.2,462.5 L1092.2,464.2 L1093.2,465.9 L1094.2,467.7 L1095.1,469.4 L1096.1,471.1 L1097.1,472.9 L1098.1,474.6 L1099.1,476.3 L1100.1,478.0 L1101.1,479.8 L1102.1,481.5 L1103.1,483.2 L1104.1,485.0 L1105.2,486.7 L1106.2,488.4 L1107.2,490.1 L1108.2,491.9 L1109.2,493.6 L1110.2,495.3 L1111.2,497.0 L1112.2,498.8 L1113.2,500.5 L1114.3,502.2 L1115.3,503.9 L1116.3,505.6 L1117.3,507.3 L1118.4,509.1 L1119.4,510.8 L1120.4,512.5 L1121.4,514.2 L1122.5,515.9 L1123.5,517.6 L1124.5,519.3 L1125.6,521.1 L1126.6,522.8 L1127.6,524.5 L1128.7,526.2 L1129.7,527.9 L1130.8,529.6 L1131.8,531.3 L1132.9,533.0 L1133.9,534.7 L1135.0,536.4 L1136.0,538.1 L1137.1,539.8 L1138.1,541.5 L1139.2,543.2 L1140.3,544.9 L1141.3,546.6 L1142.4,548.3 L1143.5,550.0 L1144.6,551.6 L1145.6,553.3 L1146.7,555.0 L1147.8,556.7 L1148.9,558.4 L1150.0,560.1 L1151.1,561.7 L1152.1,563.4 L1153.2,565.1 L1154.3,566.8 L1155.4,568.4 L1156.5,570.1 L1157.7,571.8 L1158.8,573.4 L1159.9,575.1 L1161.0,576.7 L1162.1,578.4 L1163.2,580.1 L1164.3,581.7 L1165.5,583.4 L1166.6,585.0 L1167.7,586.7 L1168.9,588.3 L1170.0,590.0 L1171.2,591.6 L1172.3,593.2 L1173.5,594.9 L1174.6,596.5 L1175.8,598.1 L1176.9,599.8 L1178.1,601.4 L1179.3,603.0 L1180.4,604.6 L1181.6,606.3 L1182.8,607.9 L1184.0,609.5 L1185.2,611.1 L1186.3,612.7 L1187.5,614.3 L1188.7,615.9 L1189.9,617.5 L1191.1,619.1 L1192.4,620.7 L1193.6,622.3 L1194.8,623.9 L1196.0,625.5 L1197.2,627.1 L1198.5,628.7 L1199.7,630.2 L1201.0,631.8 L1202.2,633.3 L1203.5,634.9 L1204.7,636.5 L1206.0,638.0 L1207.3,639.5 L1208.6,641.0 L1209.9,642.6 L1211.2,644.1 L1212.5,645.6 L1213.8,647.1 L1215.2,648.5 L1216.5,650.0 L1217.9,651.5 L1219.3,652.9 L1220.7,654.3 L1222.1,655.8 L1223.5,657.2 L1224.9,658.6 L1226.3,660.0 L1227.8,661.3 L1229.2,662.7 L1230.7,664.0 L1232.2,665.4 L1233.7,666.7 L1235.2,668.0 L1236.8,669.2 L1238.3,670.5 L1239.9,671.8 L1241.4,673.1 L1243.0,674.3 L1244.5,675.6 L1246.0,676.9 L1247.5,678.3 L1248.9,679.7 L1250.4,681.1 L1251.8,682.5 L1253.2,683.9 L1254.6,685.3 L1256.1,686.7 L1257.5,688.1 L1259.0,689.4 L1260.6,690.7 L1262.1,691.9 L1263.8,693.0 L1265.4,694.1 L1267.1,695.2 L1268.8,696.2 L1270.6,697.3 L1272.3,698.3 L1273.9,699.4 L1275.6,700.5 L1277.2,701.7 L1278.9,702.8 L1280.5,704.0 L1282.1,705.2 L1283.7,706.4 L1285.4,707.5 L1287.0,708.7 L1288.6,709.8 L1290.3,710.9 L1292.0,712.0 L1293.7,713.1 L1295.4,714.1 L1297.1,715.2 L1298.9,716.1 L1300.6,717.1 L1302.4,718.0 L1304.2,718.9 L1306.0,719.7 L1307.8,720.6 L1309.7,721.3 L1311.5,722.1 L1313.3,722.9 L1315.2,723.7 L1317.0,724.5 L1318.8,725.4 L1320.6,726.3 L1322.4,727.2 L1324.1,728.3 L1325.8,729.4 L1327.4,730.6 L1329.1,731.8 L1330.8,733.0 L1332.4,734.2 L1334.1,735.3 L1335.8,736.4 L1337.5,737.3 L1339.3,738.0 L1341.2,738.6 L1343.1,739.0 L1345.1,739.2 L1347.1,739.5 L1349.1,739.7 L1351.0,740.1 L1353.0,740.6 L1354.9,741.1 L1356.8,741.8 L1358.7,742.4 L1360.6,743.2 L1362.4,743.9 L1364.3,744.7 L1366.2,745.4 L1368.0,746.2 L1369.9,746.9 L1371.8,747.6 L1373.7,748.2 L1375.6,748.8 L1377.6,749.3 L1379.5,749.7 L1381.5,750.0 L1383.5,750.2 L1385.5,750.4 L1387.5,750.5 L1389.5,750.6 L1391.5,750.7 L1393.5,750.9 L1395.4,751.2 L1397.4,751.6 L1399.3,752.2 L1401.2,752.8 L1403.1,753.5 L1405.0,754.1 L1406.9,754.5 L1408.9,754.7 L1410.9,754.9 L1412.9,754.9 L1414.9,754.9 L1416.9,754.9 L1418.9,754.8 L1420.9,754.8 L1422.9,754.9 L1424.9,755.0 L1426.9,755.2 L1428.9,755.5 L1430.9,755.7 L1432.9,756.0 L1434.9,756.3 L1436.8,756.6 L1438.8,756.8 L1440.8,757.0 L1442.8,757.2 L1444.8,757.2 L1446.8,757.1 L1448.8,756.9 L1450.8,756.7 L1452.8,756.5 L1454.7,756.3 L1456.7,756.2 L1458.7,756.2 L1460.7,756.3 L1462.7,756.4 L1464.7,756.6 L1466.7,756.8 L1468.7,757.1 L1470.7,757.3 L1472.7,757.4 L1474.7,757.5 L1476.7,757.5 L1478.7,757.5 L1480.7,757.4 L1482.7,757.3 L1484.7,757.2 L1486.7,757.0 L1488.6,756.8 L1490.6,756.6 L1492.6,756.4 L1494.6,756.1 L1496.6,755.9 L1498.6,755.6 L1500.6,755.4 L1502.6,755.2 L1504.6,755.0 L1506.6,754.8 L1508.6,754.6 L1510.5,754.5 L1512.5,754.3 L1514.5,754.2 L1516.5,754.0 L1518.5,753.9 L1520.5,753.8 L1522.5,753.7 L1524.5,753.6 L1526.5,753.5 L1528.5,753.3 L1530.5,753.1 L1532.4,752.7 L1534.3,752.0 L1535.9,751.1" stroke="#6070ff"/>
<path d="M239.6,620.1 L242.6,620.2 L245.6,620.2 L248.6,620.2 L251.6,620.2 L254.6,620.2 L257.6,620.2 L260.6,620.2 L261.8,620.2 M292.4,620.2 L295.4,620.2 L298.4,620.2 L301.4,620.2 L304.4,620.2 L307.4,620.2 L310.4,620.2 L313.4,620.2 L314.8,620.2 M345.4,620.1 L348.4,620.1 L351.4,620.1 L354.4,620.1 L357.4,620.1 L360.4,620.1 L363.4,620.1 L366.4,620.1 L367.8,620.1 M398.4,620.1 L401.4,620.1 L404.4,620.1 L407.4,620.1 L410.4,620.1 L413.4,620.1 L416.4,620.1 L419.4,620.1 L420.8,620.1 M451.4,620.0 L454.4,620.0 L457.4,620.0 L460.4,619.9 L463.4,619.9 L466.4,619.9 L469.4,619.8 L472.4,619.8 L473.8,619.7 M504.8,618.8 L507.8,618.7 L510.8,618.5 L513.8,618.4 L516.8,618.2 L519.8,618.1 L522.8,617.9 L525.8,617.7 L527.2,617.6 M557.7,614.5 L560.7,614.0 L563.6,613.6 L566.6,613.1 L569.5,612.6 L572.5,612.0 L575.4,611.4 L578.4,610.8 L579.7,610.5 M606.4,601.9 L609.1,600.6 L611.8,599.2 L614.4,597.8 L617.0,596.3 L619.5,594.6 L622.0,592.9 L624.4,591.2 L625.5,590.3 M647.3,567.9 L649.2,565.6 L651.0,563.2 L652.8,560.8 L654.5,558.3 L656.2,555.9 L657.9,553.4 L659.6,550.9 L660.4,549.7 M676.6,521.4 L677.9,518.7 L679.2,516.0 L680.5,513.3 L681.8,510.6 L683.1,507.8 L684.3,505.1 L685.5,502.4 L686.1,501.1 M697.4,472.2 L698.4,469.4 L699.4,466.5 L700.3,463.7 L701.3,460.8 L702.3,458.0 L703.2,455.1 L704.1,452.3 L704.6,451.0 M713.6,421.6 L714.4,418.7 L715.2,415.8 L716.1,412.9 L716.9,410.0 L717.7,407.2 L718.6,404.3 L719.4,401.4 L719.8,400.0 M728.1,371.1 L728.9,368.2 L729.7,365.3 L730.5,362.4 L731.3,359.5 L732.1,356.6 L733.0,353.8 L733.8,350.9 L734.1,349.5 M742.7,319.2 L743.5,316.3 L744.3,313.4 L745.1,310.5 L746.0,307.6 L746.8,304.8 L747.6,301.9 L748.4,299.0 L748.8,297.6 M757.2,268.2 L758.0,265.4 L758.9,262.5 L759.7,259.6 L760.6,256.7 L761.4,253.8 L762.2,251.0 L763.1,248.1 L763.5,246.7 M772.1,218.8 L773.0,216.0 L773.9,213.1 L774.9,210.3 L775.8,207.4 L776.8,204.6 L777.8,201.7 L778.8,198.9 L779.2,197.6 M790.5,168.7 L791.7,165.9 L792.9,163.2 L794.1,160.4 L795.4,157.7 L796.6,155.0 L797.9,152.3 L799.2,149.6 L799.9,148.3 M814.5,122.0 L816.1,119.5 L817.8,117.0 L819.7,114.6 L821.7,112.4 L823.9,110.3 L826.1,108.4 L828.3,106.3 L829.3,105.3 M857.4,97.2 L860.3,98.0 L863.1,99.0 L865.9,100.2 L868.6,101.5 L871.2,102.9 L873.8,104.5 L876.3,106.1 L877.5,106.9 M899.6,128.9 L901.4,131.2 L903.2,133.6 L905.0,136.0 L906.8,138.5 L908.5,140.9 L910.2,143.3 L912.0,145.8 L912.7,147.0 M930.1,174.1 L931.7,176.6 L933.2,179.2 L934.8,181.8 L936.3,184.3 L937.8,186.9 L939.4,189.5 L940.9,192.0 L941.6,193.3 M957.1,219.6 L958.6,222.2 L960.1,224.8 L961.6,227.4 L963.1,230.0 L964.6,232.6 L966.1,235.2 L967.5,237.8 L968.2,239.0 M983.6,266.0 L985.1,268.6 L986.5,271.2 L988.0,273.9 L989.5,276.5 L991.0,279.1 L992.4,281.7 L993.9,284.3 L994.6,285.5 M1009.6,312.2 L1011.1,314.8 L1012.5,317.4 L1014.0,320.1 L1015.5,322.7 L1017.0,325.3 L1018.4,327.9 L1019.9,330.5 L1020.6,331.7 M1035.8,358.3 L1037.3,360.9 L1038.8,363.5 L1040.3,366.1 L1041.8,368.7 L1043.3,371.3 L1044.8,373.9 L1046.3,376.5 L1047.0,377.7 M1062.3,403.6 L1063.9,406.2 L1065.4,408.7 L1067.0,411.3 L1068.5,413.9 L1070.1,416.4 L1071.6,419.0 L1073.2,421.6 L1073.9,422.8 M1090.2,448.7 L1091.8,451.2 L1093.4,453.7 L1095.0,456.3 L1096.6,458.8 L1098.3,461.3 L1099.9,463.8 L1101.6,466.3 L1102.3,467.5 M1119.4,492.9 L1121.1,495.3 L1122.8,497.8 L1124.5,500.3 L1126.3,502.7 L1128.0,505.2 L1129.7,507.6 L1131.5,510.1 L1132.3,511.2 M1149.4,534.8 L1151.1,537.2 L1152.9,539.6 L1154.7,542.0 L1156.5,544.4 L1158.4,546.8 L1160.2,549.2 L1162.0,551.6 L1162.8,552.7 M1181.1,576.0 L1183.0,578.3 L1184.8,580.7 L1186.7,583.0 L1188.6,585.3 L1190.5,587.7 L1192.4,590.0 L1194.3,592.3 L1195.2,593.4 M1214.9,616.8 L1216.9,619.0 L1218.9,621.3 L1220.8,623.6 L1222.8,625.8 L1224.8,628.1 L1226.8,630.3 L1228.8,632.6 L1229.7,633.6 M1250.0,655.8 L1252.1,658.0 L1254.1,660.2 L1256.2,662.4 L1258.2,664.6 L1260.3,666.7 L1262.4,668.9 L1264.5,671.1 L1265.4,672.1 M1286.6,693.5 L1288.8,695.6 L1290.9,697.7 L1293.0,699.8 L1295.2,701.9 L1297.3,704.0 L1299.5,706.1 L1301.7,708.1 L1302.7,709.1 M1326.2,731.0 L1328.5,733.0 L1330.7,735.0 L1333.0,736.9 L1335.2,738.9 L1337.5,740.9 L1339.7,742.9 L1342.0,744.8 L1343.1,745.8 M1365.4,764.3 L1367.8,766.2 L1370.1,768.1 L1372.5,769.9 L1374.8,771.8 L1377.2,773.6 L1379.6,775.4 L1382.0,777.2 L1383.1,778.1 M1405.8,794.6 L1408.3,796.3 L1410.8,798.0 L1413.2,799.6 L1415.7,801.3 L1418.2,803.0 L1420.7,804.6 L1423.2,806.3 L1424.4,807.0 M1451.4,823.6 L1454.0,825.1 L1456.6,826.6 L1459.2,828.1 L1461.8,829.5 L1464.4,831.0 L1467.0,832.5 L1469.7,833.9 L1470.9,834.6 M1498.1,848.7 L1500.8,850.1 L1503.5,851.4 L1506.2,852.7 L1508.9,854.0 L1511.6,855.3 L1514.3,856.6 L1517.0,857.9 L1518.3,858.4" stroke="#0016be" stroke-linecap="round"/>
</g>
<g stroke="#000" stroke-width="4.17" fill="none" stroke-linecap="butt">
<path d="M239.6,30.31 V1014.09"/>
<path d="M237.51,1012.0 H1537.18"/>
<path d="M239.6,32.40 h-20.83"/>
<path d="M239.6,228.32 h-20.83"/>
<path d="M239.6,424.24 h-20.83"/>
<path d="M239.6,620.16 h-20.83"/>
<path d="M239.6,816.08 h-20.83"/>
<path d="M239.6,1012.00 h-20.83"/>
<path d="M239.6,130.36 h-10.42"/>
<path d="M239.6,326.28 h-10.42"/>
<path d="M239.6,522.20 h-10.42"/>
<path d="M239.6,718.12 h-10.42"/>
<path d="M239.6,914.04 h-10.42"/>
<path d="M239.60,1012.0 v20.83"/>
<path d="M563.48,1012.0 v20.83"/>
<path d="M887.35,1012.0 v20.83"/>
<path d="M1211.22,1012.0 v20.83"/>
<path d="M1535.10,1012.0 v20.83"/>
<path d="M401.54,1012.0 v10.42"/>
<path d="M725.41,1012.0 v10.42"/>
<path d="M1049.29,1012.0 v10.42"/>
<path d="M1373.16,1012.0 v10.42"/>
</g>
<text class="tick" x="119.38" y="46.50" font-size="46.38" textLength="86.22" lengthAdjust="spacingAndGlyphs">0,75</text>
<text class="tick" x="119.38" y="242.42" font-size="46.38" textLength="86.22" lengthAdjust="spacingAndGlyphs">0,50</text>
<text class="tick" x="119.38" y="438.34" font-size="46.38" textLength="86.22" lengthAdjust="spacingAndGlyphs">0,25</text>
<text class="tick" x="119.38" y="634.26" font-size="46.38" textLength="86.22" lengthAdjust="spacingAndGlyphs">0,00</text>
<text class="tick" x="93.51" y="830.18" font-size="46.38" textLength="112.09" lengthAdjust="spacingAndGlyphs">−0,25</text>
<text class="tick" x="93.51" y="1026.10" font-size="46.38" textLength="112.09" lengthAdjust="spacingAndGlyphs">−0,50</text>
<text class="tick" x="208.81" y="1081.60" font-size="46.38" textLength="61.58" lengthAdjust="spacingAndGlyphs">0,0</text>
<text class="tick" x="532.68" y="1081.60" font-size="46.38" textLength="61.58" lengthAdjust="spacingAndGlyphs">0,2</text>
<text class="tick" x="856.56" y="1081.60" font-size="46.38" textLength="61.58" lengthAdjust="spacingAndGlyphs">0,4</text>
<text class="tick" x="1180.43" y="1081.60" font-size="46.38" textLength="61.58" lengthAdjust="spacingAndGlyphs">0,6</text>
<text class="tick" x="1504.31" y="1081.60" font-size="46.38" textLength="61.58" lengthAdjust="spacingAndGlyphs">0,8</text>
<text><tspan class="mi" x="787.52" y="1166.35" font-size="69.70" textLength="43.93" lengthAdjust="spacingAndGlyphs">V</tspan><tspan class="mi" x="827.56" y="1175.79" font-size="51.00" textLength="37.29" lengthAdjust="spacingAndGlyphs">G</tspan> <tspan class="mr" x="904.83" y="1171.31" font-size="79.16" textLength="13.62" lengthAdjust="spacingAndGlyphs">[</tspan><tspan class="mi" x="918.20" y="1166.35" font-size="69.70" textLength="43.09" lengthAdjust="spacingAndGlyphs">V</tspan><tspan class="mr" x="968.45" y="1171.31" font-size="79.16" textLength="13.76" lengthAdjust="spacingAndGlyphs">]</tspan></text>
<text transform="translate(0,710) rotate(-90)"><tspan class="mi" x="5.20" y="66.19" font-size="61.68" textLength="32.45" lengthAdjust="spacingAndGlyphs">g</tspan><tspan class="mi" x="29.32" y="78.42" font-size="99.57" textLength="20.05" lengthAdjust="spacingAndGlyphs">′</tspan><tspan class="mi" x="36.56" y="82.70" font-size="46.17" textLength="43.16" lengthAdjust="spacingAndGlyphs">m</tspan> <tspan class="mr" x="118.53" y="71.44" font-size="78.19" textLength="13.62" lengthAdjust="spacingAndGlyphs">[</tspan><tspan class="mi" x="129.81" y="66.50" font-size="63.62" textLength="61.48" lengthAdjust="spacingAndGlyphs">m</tspan><tspan class="mi" x="195.25" y="65.90" font-size="71.21" textLength="40.57" lengthAdjust="spacingAndGlyphs">A</tspan><tspan class="mr" x="241.80" y="81.03" font-size="96.87" textLength="25.33" lengthAdjust="spacingAndGlyphs">/</tspan><tspan class="mi" x="270.30" y="66.07" font-size="68.36" textLength="42.99" lengthAdjust="spacingAndGlyphs">V</tspan><tspan class="mr" x="326.24" y="39.00" font-size="46.94" textLength="24.00" lengthAdjust="spacingAndGlyphs">2</tspan><tspan class="mr" x="352.57" y="71.44" font-size="78.19" textLength="13.62" lengthAdjust="spacingAndGlyphs">]</tspan></text>
<rect x="249.85" y="689.5" width="633.75" height="276.1" fill="#fff" stroke="#000" stroke-width="1.45"/>
<path d="M257.55,727.3 H379.45" stroke="#fb6c6c" stroke-width="5.15" fill="none" stroke-linecap="round"/>
<text><tspan class="leg" x="394.1" y="745.4" font-size="55.90" textLength="142.22" lengthAdjust="spacingAndGlyphs">MLP2</tspan> <tspan class="mi" x="552.55" y="745.76" font-size="69.55" textLength="43.65" lengthAdjust="spacingAndGlyphs">V</tspan><tspan class="mi" x="594.70" y="754.78" font-size="48.06" textLength="36.44" lengthAdjust="spacingAndGlyphs">D</tspan> <tspan class="mr" x="651.03" y="750.10" font-size="63.60" textLength="52.64" lengthAdjust="spacingAndGlyphs">=</tspan> <tspan class="mr" x="719.80" y="746.33" font-size="67.11" textLength="33.29" lengthAdjust="spacingAndGlyphs">0</tspan><tspan class="mr" x="752.64" y="744.40" font-size="73.19" textLength="17.92" lengthAdjust="spacingAndGlyphs">.</tspan><tspan class="mr" x="770.73" y="745.50" font-size="68.29" textLength="31.83" lengthAdjust="spacingAndGlyphs">4</tspan><tspan class="mi" x="802.44" y="745.76" font-size="69.55" textLength="43.74" lengthAdjust="spacingAndGlyphs">V</tspan></text>
<path d="M257.6,794.3 H280.4 M310.8,794.3 H333.4 M363.9,794.3 H379.4" stroke="#c90000" stroke-width="5.15" fill="none" stroke-linecap="round"/>
<text><tspan class="leg" x="394.1" y="812.4" font-size="55.90" textLength="163.38" lengthAdjust="spacingAndGlyphs">SPICE</tspan> <tspan class="mi" x="574.05" y="812.76" font-size="69.55" textLength="43.65" lengthAdjust="spacingAndGlyphs">V</tspan><tspan class="mi" x="616.20" y="821.78" font-size="48.06" textLength="36.44" lengthAdjust="spacingAndGlyphs">D</tspan> <tspan class="mr" x="672.53" y="817.10" font-size="63.60" textLength="52.64" lengthAdjust="spacingAndGlyphs">=</tspan> <tspan class="mr" x="741.30" y="813.33" font-size="67.11" textLength="33.29" lengthAdjust="spacingAndGlyphs">0</tspan><tspan class="mr" x="774.14" y="811.40" font-size="73.19" textLength="17.92" lengthAdjust="spacingAndGlyphs">.</tspan><tspan class="mr" x="792.23" y="812.50" font-size="68.29" textLength="31.83" lengthAdjust="spacingAndGlyphs">4</tspan><tspan class="mi" x="823.94" y="812.76" font-size="69.55" textLength="43.74" lengthAdjust="spacingAndGlyphs">V</tspan></text>
<path d="M257.55,861.3 H379.45" stroke="#6070ff" stroke-width="5.15" fill="none" stroke-linecap="round"/>
<text><tspan class="leg" x="394.1" y="879.4" font-size="55.90" textLength="142.22" lengthAdjust="spacingAndGlyphs">MLP2</tspan> <tspan class="mi" x="552.55" y="879.76" font-size="69.55" textLength="43.65" lengthAdjust="spacingAndGlyphs">V</tspan><tspan class="mi" x="594.70" y="888.78" font-size="48.06" textLength="36.44" lengthAdjust="spacingAndGlyphs">D</tspan> <tspan class="mr" x="651.03" y="884.10" font-size="63.60" textLength="52.64" lengthAdjust="spacingAndGlyphs">=</tspan> <tspan class="mr" x="719.80" y="880.33" font-size="67.11" textLength="33.29" lengthAdjust="spacingAndGlyphs">0</tspan><tspan class="mr" x="752.64" y="878.40" font-size="73.19" textLength="17.92" lengthAdjust="spacingAndGlyphs">.</tspan><tspan class="mr" x="770.87" y="880.33" font-size="67.11" textLength="32.35" lengthAdjust="spacingAndGlyphs">8</tspan><tspan class="mi" x="802.44" y="879.76" font-size="69.55" textLength="43.74" lengthAdjust="spacingAndGlyphs">V</tspan></text>
<path d="M257.6,928.3 H280.4 M310.8,928.3 H333.4 M363.9,928.3 H379.4" stroke="#0016be" stroke-width="5.15" fill="none" stroke-linecap="round"/>
<text><tspan class="leg" x="394.1" y="946.4" font-size="55.90" textLength="163.38" lengthAdjust="spacingAndGlyphs">SPICE</tspan> <tspan class="mi" x="574.05" y="946.76" font-size="69.55" textLength="43.65" lengthAdjust="spacingAndGlyphs">V</tspan><tspan class="mi" x="616.20" y="955.78" font-size="48.06" textLength="36.44" lengthAdjust="spacingAndGlyphs">D</tspan> <tspan class="mr" x="672.53" y="951.10" font-size="63.60" textLength="52.64" lengthAdjust="spacingAndGlyphs">=</tspan> <tspan class="mr" x="741.30" y="947.33" font-size="67.11" textLength="33.29" lengthAdjust="spacingAndGlyphs">0</tspan><tspan class="mr" x="774.14" y="945.40" font-size="73.19" textLength="17.92" lengthAdjust="spacingAndGlyphs">.</tspan><tspan class="mr" x="792.37" y="947.33" font-size="67.11" textLength="32.35" lengthAdjust="spacingAndGlyphs">8</tspan><tspan class="mi" x="823.94" y="946.76" font-size="69.55" textLength="43.74" lengthAdjust="spacingAndGlyphs">V</tspan></text>
</svg></body></html>
